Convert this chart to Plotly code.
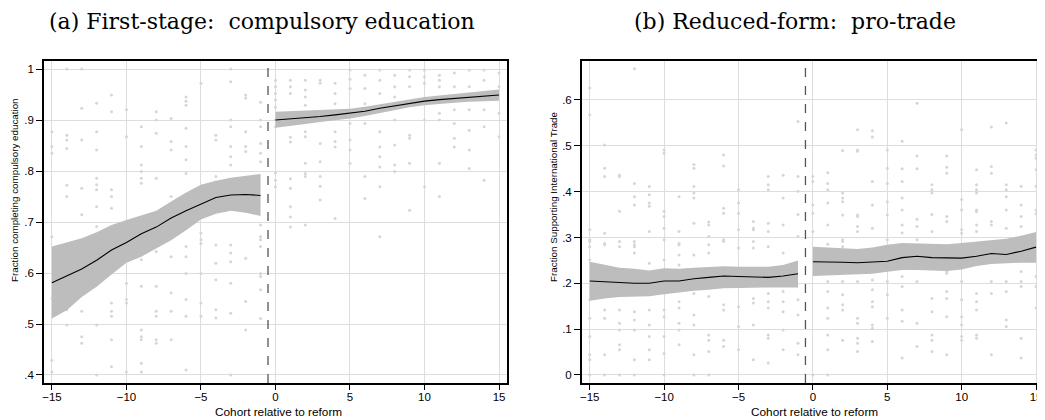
import plotly.graph_objects as go

# ---------------- data ----------------
cohorts_pre = list(range(-15, 0))
cohorts_post = list(range(0, 16))

# Panel (a): compulsory education
edu_fit_pre = [0.581, 0.595, 0.608, 0.625, 0.645, 0.660, 0.677, 0.690, 0.708, 0.722, 0.735, 0.748, 0.753, 0.754, 0.752]
edu_hi_pre = [0.652, 0.660, 0.668, 0.680, 0.694, 0.704, 0.713, 0.722, 0.740, 0.758, 0.773, 0.781, 0.787, 0.791, 0.794]
edu_lo_pre = [0.511, 0.527, 0.553, 0.573, 0.597, 0.620, 0.632, 0.648, 0.664, 0.684, 0.705, 0.716, 0.722, 0.718, 0.712]
edu_fit_post = [0.900, 0.902, 0.905, 0.907, 0.910, 0.913, 0.917, 0.923, 0.928, 0.933, 0.937, 0.940, 0.942, 0.945, 0.947, 0.949]
edu_hi_post = [0.916, 0.917, 0.918, 0.919, 0.921, 0.922, 0.926, 0.931, 0.936, 0.941, 0.945, 0.948, 0.951, 0.954, 0.957, 0.960]
edu_lo_post = [0.885, 0.888, 0.892, 0.896, 0.899, 0.903, 0.908, 0.914, 0.920, 0.925, 0.929, 0.932, 0.934, 0.936, 0.937, 0.938]

edu_dots = {
    -15: [0.877, 0.848, 0.835, 0.671, 0.550, 0.429, 0.406],
    -14: [1.0, 0.870, 0.861, 0.844, 0.772, 0.750, 0.528, 0.498],
    -13: [1.0, 0.923, 0.861, 0.766, 0.714, 0.525, 0.475, 0.462],
    -12: [0.933, 0.877, 0.841, 0.786, 0.773, 0.763, 0.730, 0.691, 0.498, 0.400],
    -11: [0.949, 0.916, 0.763, 0.750, 0.727, 0.541, 0.525, 0.515, 0.469, 0.416],
    -10: [0.920, 0.867, 0.658, 0.580, 0.548, 0.541, 0.406],
    -9: [0.887, 0.848, 0.812, 0.799, 0.786, 0.776, 0.626, 0.574, 0.488, 0.475, 0.469, 0.423, 0.406],
    -8: [0.916, 0.900, 0.874, 0.786, 0.642, 0.574, 0.525, 0.515, 0.469, 0.462],
    -7: [0.903, 0.858, 0.841, 0.750, 0.632, 0.561, 0.525, 0.469],
    -6: [0.945, 0.937, 0.929, 0.884, 0.848, 0.822, 0.795, 0.652, 0.632, 0.599, 0.548, 0.515, 0.410],
    -5: [0.972, 0.678, 0.665, 0.658, 0.599, 0.541, 0.515],
    -4: [0.870, 0.861, 0.789, 0.655, 0.619, 0.587, 0.528, 0.512],
    -3: [1.0, 0.975, 0.900, 0.887, 0.848, 0.828, 0.812, 0.655, 0.639, 0.622, 0.580, 0.521, 0.400],
    -2: [0.949, 0.943, 0.877, 0.848, 0.838, 0.629, 0.544, 0.488],
    -1: [0.935, 0.900, 0.887, 0.854, 0.835, 0.818, 0.694, 0.671, 0.665, 0.652, 0.599, 0.593, 0.567, 0.511],
    0: [0.978, 0.965, 0.952, 0.939, 0.925, 0.900, 0.887, 0.796, 0.782, 0.769],
    1: [0.978, 0.965, 0.952, 0.866, 0.857, 0.785, 0.766, 0.730, 0.710, 0.690],
    2: [0.978, 0.959, 0.945, 0.929, 0.877, 0.867, 0.815, 0.795, 0.789, 0.694],
    3: [0.978, 0.972, 0.854, 0.818, 0.789, 0.770, 0.743],
    4: [0.972, 0.952, 0.932, 0.877, 0.858, 0.847, 0.707],
    5: [0.998, 0.980, 0.962, 0.893, 0.861, 0.841, 0.815],
    6: [0.988, 0.962, 0.932, 0.893, 0.789, 0.746],
    7: [0.998, 0.978, 0.952, 0.877, 0.847, 0.828, 0.808, 0.769, 0.671],
    8: [0.988, 0.965, 0.945, 0.900, 0.851, 0.812, 0.799],
    9: [0.998, 0.985, 0.965, 0.870, 0.864, 0.815, 0.723],
    10: [0.998, 0.985, 0.972, 0.900, 0.769],
    11: [0.988, 0.978, 0.965, 0.913, 0.900, 0.815, 0.750],
    12: [0.992, 0.965, 0.920, 0.893, 0.864, 0.847],
    13: [0.998, 0.965, 0.920, 0.880, 0.841, 0.805],
    14: [0.998, 0.978, 0.920, 0.887, 0.782],
    15: [0.992, 0.965, 0.913, 0.867],
}

# Panel (b): pro-trade
trade_fit_pre = [0.205, 0.203, 0.201, 0.200, 0.200, 0.205, 0.205, 0.210, 0.213, 0.216, 0.215, 0.214, 0.213, 0.216, 0.221]
trade_hi_pre = [0.247, 0.240, 0.234, 0.232, 0.228, 0.233, 0.232, 0.234, 0.236, 0.237, 0.236, 0.236, 0.236, 0.240, 0.250]
trade_lo_pre = [0.162, 0.167, 0.170, 0.171, 0.172, 0.176, 0.180, 0.184, 0.186, 0.189, 0.190, 0.191, 0.191, 0.191, 0.191]
trade_fit_post = [0.247, 0.247, 0.246, 0.245, 0.246, 0.248, 0.256, 0.259, 0.256, 0.255, 0.255, 0.259, 0.265, 0.263, 0.270, 0.279]
trade_hi_post = [0.280, 0.278, 0.276, 0.275, 0.278, 0.284, 0.288, 0.287, 0.285, 0.285, 0.288, 0.291, 0.293, 0.297, 0.304, 0.312]
trade_lo_post = [0.216, 0.217, 0.218, 0.219, 0.221, 0.225, 0.229, 0.229, 0.228, 0.227, 0.230, 0.238, 0.242, 0.244, 0.245, 0.245]

trade_dots = {
    -15: [0.626, 0.568, 0.317, 0.291, 0.280, 0.295, 0.251, 0.164, 0.124, 0.084, 0.044, 0.033, 0.0],
    -14: [0.502, 0.451, 0.433, 0.309, 0.287, 0.284, 0.142, 0.124, 0.044, 0.0],
    -13: [0.436, 0.433, 0.357, 0.291, 0.280, 0.142, 0.113, 0.098, 0.066, 0.055, 0.0],
    -12: [0.668, 0.418, 0.389, 0.371, 0.291, 0.280, 0.284, 0.266, 0.138, 0.120, 0.098, 0.033, 0.0],
    -11: [0.411, 0.393, 0.375, 0.368, 0.313, 0.244, 0.142, 0.109, 0.084, 0.055, 0.033],
    -10: [0.491, 0.484, 0.357, 0.346, 0.320, 0.295, 0.251, 0.142, 0.127, 0.084, 0.047, 0.0],
    -9: [0.389, 0.313, 0.287, 0.284, 0.262, 0.240, 0.160, 0.146, 0.113, 0.098, 0.066],
    -8: [0.459, 0.451, 0.411, 0.397, 0.386, 0.331, 0.262, 0.178, 0.131, 0.109, 0.044, 0.0],
    -7: [0.334, 0.327, 0.302, 0.284, 0.266, 0.171, 0.087, 0.076, 0.051, 0.0],
    -6: [0.480, 0.456, 0.364, 0.353, 0.295, 0.291, 0.153, 0.142, 0.076, 0.062],
    -5: [0.404, 0.375, 0.353, 0.317, 0.277, 0.149, 0.106, 0.055],
    -4: [0.335, 0.320, 0.317, 0.291, 0.277, 0.167, 0.157, 0.109, 0.033],
    -3: [0.433, 0.415, 0.404, 0.331, 0.313, 0.280, 0.178, 0.160, 0.146, 0.087, 0.080, 0.026],
    -2: [0.436, 0.386, 0.327, 0.266, 0.182, 0.160, 0.138, 0.098, 0.055],
    -1: [0.553, 0.433, 0.401, 0.350, 0.302, 0.164, 0.131, 0.069, 0.044],
    0: [0.433, 0.422, 0.371, 0.353, 0.313, 0.0],
    1: [0.441, 0.418, 0.404, 0.375, 0.327, 0.285, 0.204, 0.182, 0.146, 0.124, 0.087, 0.055, 0.0],
    2: [0.490, 0.397, 0.386, 0.378, 0.349, 0.291, 0.280, 0.295, 0.204, 0.175, 0.153, 0.142, 0.076],
    3: [0.535, 0.491, 0.488, 0.349, 0.346, 0.324, 0.313, 0.204, 0.124, 0.113, 0.080, 0.069, 0.051],
    4: [0.533, 0.519, 0.422, 0.371, 0.320, 0.207, 0.186, 0.160, 0.149, 0.109, 0.102, 0.073],
    5: [0.491, 0.451, 0.418, 0.378, 0.349, 0.295, 0.277, 0.204, 0.175, 0.124],
    6: [0.510, 0.450, 0.422, 0.386, 0.360, 0.327, 0.310, 0.215, 0.193, 0.142, 0.117, 0.037],
    7: [0.593, 0.478, 0.450, 0.340, 0.324, 0.295, 0.204, 0.113, 0.062],
    8: [0.415, 0.404, 0.397, 0.350, 0.313, 0.167, 0.138, 0.087, 0.076, 0.051],
    9: [0.478, 0.453, 0.440, 0.346, 0.335, 0.226, 0.222, 0.182, 0.167, 0.127, 0.044],
    10: [0.535, 0.383, 0.360, 0.317, 0.309, 0.204, 0.164, 0.127, 0.109, 0.084, 0.076],
    11: [0.448, 0.415, 0.404, 0.397, 0.360, 0.356, 0.327, 0.313, 0.178, 0.160, 0.142, 0.087, 0.080],
    12: [0.541, 0.455, 0.440, 0.335, 0.327, 0.204, 0.178, 0.044],
    13: [0.550, 0.415, 0.404, 0.389, 0.360, 0.320, 0.204, 0.182, 0.120, 0.106],
    14: [0.412, 0.371, 0.346, 0.324, 0.226, 0.204, 0.193, 0.080, 0.037],
    15: [0.491, 0.480, 0.473, 0.448, 0.412, 0.360, 0.352, 0.295, 0.215, 0.193, 0.146],
}

x_ticks = [-15, -10, -5, 0, 5, 10, 15]
edu_yticks = [0.4, 0.5, 0.6, 0.7, 0.8, 0.9, 1.0]
edu_yticktext = [".4", ".5", ".6", ".7", ".8", ".9", "1"]
trade_yticks = [0.0, 0.1, 0.2, 0.3, 0.4, 0.5, 0.6]
trade_yticktext = ["0", ".1", ".2", ".3", ".4", ".5", ".6"]

# ---------------- figure ----------------
# page body has an 8px margin, so the figure is drawn 8px in from the window corner
OFF = 8
W, H = 1045 - OFF, 420 - OFF


def fx(p):
    return min(1.0, max(0.0, (p - OFF) / W))


def fy(p):
    return min(1.0, max(0.0, 1 - (p - OFF) / H))


fig = go.Figure()

DOT = "#d6d6d6"
BAND = "#bdbdbd"


def add_panel(dots, segs, xa, ya):
    xs, ys = [], []
    for c, vals in dots.items():
        for v in vals:
            xs.append(c)
            ys.append(v)
    fig.add_trace(go.Scatter(x=xs, y=ys, mode="markers", xaxis=xa, yaxis=ya,
                             marker=dict(size=3, color=DOT), hoverinfo="skip", showlegend=False))
    for cx, lo, hi, fit in segs:
        fig.add_trace(go.Scatter(x=cx, y=lo, mode="lines", line=dict(width=0, color=BAND),
                                 xaxis=xa, yaxis=ya, showlegend=False, hoverinfo="skip"))
        fig.add_trace(go.Scatter(x=cx, y=hi, mode="lines", line=dict(width=0, color=BAND),
                                 fill="tonexty", fillcolor=BAND,
                                 xaxis=xa, yaxis=ya, showlegend=False, hoverinfo="skip"))
        fig.add_trace(go.Scatter(x=cx, y=fit, mode="lines", line=dict(width=1.1, color="black"),
                                 xaxis=xa, yaxis=ya, showlegend=False, hoverinfo="skip"))


add_panel(edu_dots,
          [(cohorts_pre, edu_lo_pre, edu_hi_pre, edu_fit_pre),
           (cohorts_post, edu_lo_post, edu_hi_post, edu_fit_post)], "x", "y")
add_panel(trade_dots,
          [(cohorts_pre, trade_lo_pre, trade_hi_pre, trade_fit_pre),
           (cohorts_post, trade_lo_post, trade_hi_post, trade_fit_post)], "x2", "y2")

ydom = [fy(383), fy(61)]
tickfont = dict(family="Liberation Sans, Arial, sans-serif", size=11.5, color="black")
common_x = dict(tickvals=x_ticks, showgrid=True, gridcolor="#dddddd",
                gridwidth=1, zeroline=False, showline=True, linecolor="black", linewidth=1.5,
                mirror=True, ticks="outside", ticklen=5, tickcolor="black", tickfont=tickfont,
                ticklabelstandoff=-3)
common_y = dict(showgrid=True, gridcolor="#dddddd", gridwidth=1, zeroline=False, showline=True,
                linecolor="black", linewidth=1.5, mirror=True, ticks="outside", ticklen=6,
                tickcolor="black", tickfont=tickfont)

fig.update_layout(
    width=W, height=H, margin=dict(l=0, r=0, t=0, b=0),
    paper_bgcolor="white", plot_bgcolor="white",
    xaxis=dict(domain=[fx(42), fx(507)], anchor="y", range=[-15.54, 15.54], **common_x),
    yaxis=dict(domain=ydom, anchor="x", range=[0.3843, 1.0157], tickvals=edu_yticks,
               ticktext=edu_yticktext, **common_y),
    xaxis2=dict(domain=[fx(582), 1.0], anchor="y2", range=[-15.536, 15.469], **common_x),
    yaxis2=dict(domain=ydom, anchor="x2", range=[-0.0175, 0.685], tickvals=trade_yticks,
                ticktext=trade_yticktext, **common_y),
)

for xr, yr in (("x", "y domain"), ("x2", "y2 domain")):
    fig.add_shape(type="line", xref=xr, yref=yr, x0=-0.5, x1=-0.5, y0=0, y1=1,
                  line=dict(color="#555555", width=1.3, dash="dash"))

serif = dict(family="DejaVu Serif, Liberation Serif, serif", size=22, color="black")
sans_x = dict(family="Liberation Sans, Arial, sans-serif", size=11.8, color="black")
sans_y = dict(family="Liberation Sans, Arial, sans-serif", size=9.8, color="black")

# titles: anchored at their top edge, just inside the figure
for text, xc in (("(a) First-stage:\u00a0 compulsory education", 261),
                 ("(b) Reduced-form:\u00a0 pro-trade", 796)):
    fig.add_annotation(text=text, xref="paper", yref="paper", x=fx(xc), y=1.0,
                       xanchor="center", yanchor="top", showarrow=False, font=serif,
                       borderpad=0)

annos = [
    dict(text="Cohort relative to reform", x=278, y=412, font=sans_x),
    dict(text="Cohort relative to reform", x=816, y=412, font=sans_x),
    dict(text="Fraction completing compulsory education", x=12, y=190, font=sans_y, textangle=-90),
    dict(text="Fraction Supporting International Trade", x=553, y=197, font=sans_y, textangle=-90),
]
for a in annos:
    fig.add_annotation(text=a["text"], xref="paper", yref="paper", x=fx(a["x"]), y=fy(a["y"]),
                       xanchor="center", yanchor="middle", showarrow=False, font=a["font"],
                       textangle=a.get("textangle", 0))

fig.write_html("out.html")
